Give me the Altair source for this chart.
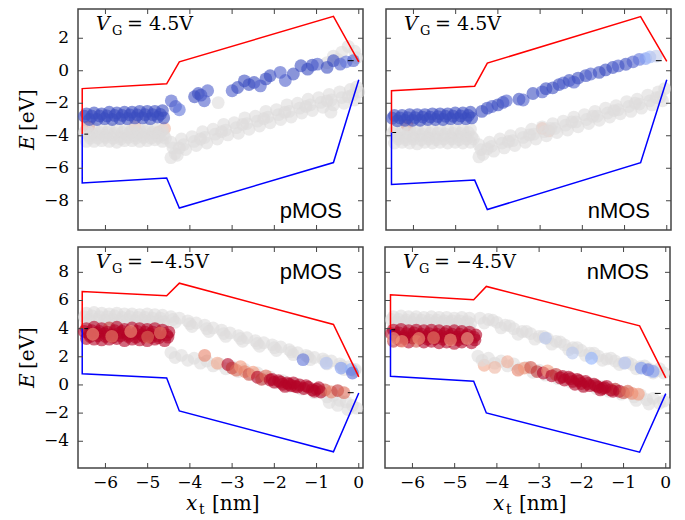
import altair as alt
import pandas as pd

# ---------------- axes ----------------
X_DOMAIN = [-6.65, 0.1]
Y_DOMAIN_TOP = [-9.8, 3.8]
Y_DOMAIN_BOTTOM = [-5.9, 9.8]
X_TICKS = [-6, -5, -4, -3, -2, -1, 0]
Y_TICKS_TOP = [-8, -6, -4, -2, 0, 2]
Y_TICKS_BOTTOM = [-4, -2, 0, 2, 4, 6, 8]

# ---------------- band edges (conduction = red, valence = blue) ----------------
BAND_X_L = [-6.55, -6.55, -4.55, -4.25, -0.6, 0.0]
BAND_X_R = [-6.52, -6.52, -4.55, -4.25, -0.62, 0.0]
tl_cb = [-3.9, -1.1, -0.8, 0.55, 3.35, 0.55]
tl_vb = [-3.9, -6.9, -6.6, -8.45, -5.65, -0.55]
tr_cb = [-3.8, -1.23, -0.95, 0.47, 3.33, 0.57]
tr_vb = [-3.8, -7.0, -6.73, -8.54, -5.66, -0.56]
bl_cb = [4.0, 6.64, 6.33, 7.23, 4.3, 0.57]
bl_vb = [4.0, 0.8, 0.5, -1.85, -4.75, -0.57]
br_cb = [3.92, 6.4, 6.05, 7.0, 4.2, 0.5]
br_vb = [3.92, 0.61, 0.26, -1.99, -4.78, -0.62]
# Fermi level marks (left, right)
tl_ef = [-3.9, 0.62]
tr_ef = [-3.8, 0.62]
bl_ef = [4.0, -0.55]
br_ef = [3.92, -0.6]

# ---------------- defects: top-left (pMOS, VG=4.5V) ----------------
tl_faint = [(-6.4, -3.45, 0.7), (-5.3, -3.4, 0.3), (-4.75, -3.8, 0.35), (-4.6, -3.55, 0.3)]
tl_grey_left = [
    (-6.45, -3.6), (-6.27, -3.55), (-6.09, -3.65), (-5.91, -3.6), (-5.73, -3.55), (-5.55, -3.65),
    (-5.37, -3.6), (-5.19, -3.65), (-5.01, -3.55), (-4.83, -3.6), (-4.65, -3.65),
    (-6.5, -3.8), (-6.32, -3.85), (-6.14, -3.8), (-5.96, -3.8), (-5.78, -3.85), (-5.6, -3.8),
    (-5.42, -3.8), (-5.24, -3.85), (-5.06, -3.75), (-4.88, -3.8), (-4.7, -3.8),
    (-6.38, -4.0), (-6.2, -3.95), (-6.02, -4.0), (-5.84, -3.95), (-5.66, -4.05), (-5.48, -3.95),
    (-5.3, -4.0), (-5.12, -3.95), (-4.94, -3.9), (-4.76, -4.0), (-4.62, -3.95),
    (-6.36, -4.15), (-6.18, -4.15), (-6.0, -4.1), (-5.82, -4.15), (-5.64, -4.2), (-5.46, -4.1),
    (-5.28, -4.15), (-5.1, -4.1), (-4.92, -4.15), (-4.74, -4.1), (-4.58, -4.15),
    (-6.45, -4.35), (-6.27, -4.35), (-6.09, -4.3), (-5.91, -4.35), (-5.73, -4.4), (-5.55, -4.3),
    (-5.37, -4.3), (-5.19, -4.35), (-5.01, -4.3), (-4.83, -4.25), (-4.65, -4.35),
]
tl_grey_rise = [
    (-4.45, -4.4), (-4.2, -4.2), (-3.95, -4.05), (-3.7, -3.75), (-3.45, -3.6), (-3.2, -3.3),
    (-2.95, -3.2), (-2.7, -2.9), (-2.45, -2.8), (-2.2, -2.5), (-1.95, -2.4), (-1.7, -2.1),
    (-1.45, -2.0), (-1.2, -1.75), (-0.95, -1.65), (-0.7, -1.45), (-0.45, -1.3), (-0.2, -1.15),
    (-4.4, -4.75), (-4.15, -4.55), (-3.9, -4.35), (-3.65, -4.1), (-3.4, -3.9), (-3.15, -3.65),
    (-2.9, -3.5), (-2.65, -3.25), (-2.4, -3.1), (-2.15, -2.85), (-1.9, -2.7), (-1.65, -2.5),
    (-1.4, -2.3), (-1.15, -2.1), (-0.9, -1.95), (-0.65, -1.8), (-0.4, -1.65), (-0.15, -1.5),
    (-4.35, -5.1), (-4.1, -4.85), (-3.85, -4.6), (-3.6, -4.45), (-3.35, -4.2), (-3.1, -3.95),
    (-2.85, -3.85), (-2.6, -3.6), (-2.35, -3.4), (-2.1, -3.2), (-1.85, -3.0), (-1.6, -2.85),
    (-1.35, -2.6), (-1.1, -2.45), (-0.85, -2.25), (-0.6, -2.1), (-0.35, -2.0), (-0.1, -1.8),
    (-4.25, -4.75), (-3.75, -4.2), (-3.25, -3.75), (-2.75, -3.3), (-2.25, -2.95), (-1.75, -2.55),
    (-1.25, -2.2), (-0.75, -1.85), (-0.25, -1.6),
    (-4.45, -5.35), (-4.3, -5.2), (-0.66, -2.55), (-0.05, -1.0), (0.0, -1.3),
]
tl_grey_top = [(-0.75, 0.5), (-0.6, 0.9), (-0.4, 1.15), (-0.25, 1.5), (-0.1, 1.2), (-0.05, 0.8),
               (-0.5, 0.7), (-3.33, -1.96)]
tl_blue_left = [
    (-6.45, -2.65, -1), (-6.27, -2.6, -1), (-6.09, -2.65, -1), (-5.91, -2.55, -1), (-5.73, -2.6, -1),
    (-5.55, -2.55, -1), (-5.37, -2.55, -1), (-5.19, -2.5, -1), (-5.01, -2.5, -1), (-4.83, -2.5, -1),
    (-4.65, -2.45, -1),
    (-6.5, -2.8, -1), (-6.32, -2.8, -1), (-6.14, -2.78, -1), (-5.96, -2.78, -1), (-5.78, -2.75, -1),
    (-5.6, -2.75, -1), (-5.42, -2.72, -1), (-5.24, -2.72, -1), (-5.06, -2.7, -1), (-4.88, -2.7, -1),
    (-4.7, -2.68, -1),
    (-6.38, -3.0, -1), (-6.2, -3.0, -1), (-6.02, -2.95, -1), (-5.84, -3.0, -1), (-5.66, -2.95, -1),
    (-5.48, -2.95, -1), (-5.3, -2.9, -1), (-5.12, -2.9, -1), (-4.94, -2.95, -1), (-4.76, -2.85, -1),
    (-4.62, -2.9, -1),
]
tl_blue_rise = [
    (-4.44, -1.85, -0.9), (-4.34, -2.2, -0.9), (-4.25, -2.4, -0.8), (-3.89, -1.6, -1), (-3.8, -1.4, -1),
    (-3.74, -1.5, -1), (-3.66, -1.85, -0.9), (-3.58, -1.23, -0.9), (-3.0, -1.23, -0.9), (-2.87, -1.03, -1),
    (-2.71, -0.62, -1), (-2.6, -0.85, -1), (-2.48, -0.72, -1), (-2.33, -0.93, -0.9), (-2.2, -0.5, -1),
    (-2.1, -0.31, -1), (-1.86, -0.1, -0.9), (-1.74, -0.6, -0.9), (-1.55, -0.2, -1), (-1.37, 0.31, -1),
    (-1.21, 0.1, -1), (-1.1, 0.35, -1), (-0.98, 0.41, -0.9), (-0.75, 0.21, -1), (-0.6, 0.62, -1),
    (-0.44, 0.41, -0.9), (-0.3, 0.55, -0.8), (-0.13, 0.62, -0.9),
]

# ---------------- defects: top-right (nMOS, VG=4.5V) ----------------
tr_faint = [(-6.15, -3.35, 0.8), (-2.95, -3.55, 0.35), (-2.8, -3.7, 0.25)]
tr_grey_left = [
    (-6.45, -3.65), (-6.27, -3.6), (-6.09, -3.65), (-5.91, -3.65), (-5.73, -3.6), (-5.55, -3.65),
    (-5.37, -3.65), (-5.19, -3.6), (-5.01, -3.65), (-4.83, -3.65), (-4.65, -3.6),
    (-6.5, -3.85), (-6.32, -3.9), (-6.14, -3.85), (-5.96, -3.85), (-5.78, -3.9), (-5.6, -3.85),
    (-5.42, -3.85), (-5.24, -3.9), (-5.06, -3.85), (-4.88, -3.85), (-4.7, -3.8),
    (-6.38, -4.05), (-6.2, -4.1), (-6.02, -4.05), (-5.84, -4.0), (-5.66, -4.05), (-5.48, -4.1),
    (-5.3, -4.0), (-5.12, -4.05), (-4.94, -4.05), (-4.76, -4.0), (-4.62, -4.05),
    (-6.36, -4.2), (-6.18, -4.25), (-6.0, -4.2), (-5.82, -4.25), (-5.64, -4.2), (-5.46, -4.25),
    (-5.28, -4.2), (-5.1, -4.2), (-4.92, -4.25), (-4.74, -4.2), (-4.58, -4.2),
    (-6.45, -4.45), (-6.27, -4.4), (-6.09, -4.45), (-5.91, -4.5), (-5.73, -4.4), (-5.55, -4.45),
    (-5.37, -4.4), (-5.19, -4.45), (-5.01, -4.4), (-4.83, -4.45), (-4.65, -4.4),
]
tr_grey_rise = [
    (-4.45, -4.55), (-4.2, -4.4), (-3.95, -4.2), (-3.7, -4.0), (-3.45, -3.85), (-3.2, -3.6),
    (-2.95, -3.45), (-2.7, -3.25), (-2.45, -3.1), (-2.2, -2.85), (-1.95, -2.7), (-1.7, -2.5),
    (-1.45, -2.3), (-1.2, -2.15), (-0.95, -1.9), (-0.7, -1.75), (-0.45, -1.5), (-0.2, -1.3),
    (-4.4, -4.85), (-4.15, -4.65), (-3.9, -4.45), (-3.65, -4.3), (-3.4, -4.1), (-3.15, -3.9),
    (-2.9, -3.75), (-2.65, -3.55), (-2.4, -3.35), (-2.15, -3.15), (-1.9, -3.0), (-1.65, -2.8),
    (-1.4, -2.6), (-1.15, -2.4), (-0.9, -2.2), (-0.65, -2.05), (-0.4, -1.85), (-0.15, -1.6),
    (-4.35, -5.15), (-4.1, -4.95), (-3.85, -4.75), (-3.6, -4.6), (-3.35, -4.4), (-3.1, -4.2),
    (-2.85, -4.0), (-2.6, -3.8), (-2.35, -3.65), (-2.1, -3.45), (-1.85, -3.25), (-1.6, -3.05),
    (-1.35, -2.85), (-1.1, -2.65), (-0.85, -2.5), (-0.6, -2.3), (-0.35, -2.1), (-0.1, -1.85),
    (-4.25, -4.8), (-3.75, -4.35), (-3.25, -3.95), (-2.75, -3.55), (-2.25, -3.15), (-1.75, -2.8),
    (-1.25, -2.45), (-0.75, -2.0), (-0.25, -1.65), (-0.05, -1.1), (-4.45, -5.3),
]
tr_blue_left = [
    (-6.45, -2.75, -1), (-6.27, -2.75, -1), (-6.09, -2.7, -1), (-5.91, -2.7, -1), (-5.73, -2.7, -1),
    (-5.55, -2.65, -1), (-5.37, -2.65, -1), (-5.19, -2.65, -1), (-5.01, -2.6, -1), (-4.83, -2.6, -1),
    (-4.65, -2.55, -1),
    (-6.5, -2.92, -1), (-6.32, -2.9, -1), (-6.14, -2.88, -1), (-5.96, -2.88, -1), (-5.78, -2.85, -1),
    (-5.6, -2.85, -1), (-5.42, -2.82, -1), (-5.24, -2.8, -1), (-5.06, -2.8, -1), (-4.88, -2.78, -1),
    (-4.7, -2.75, -1),
    (-6.38, -3.08, -1), (-6.2, -3.05, -1), (-6.02, -3.05, -1), (-5.84, -3.05, -1), (-5.66, -3.0, -1),
    (-5.48, -3.0, -1), (-5.3, -3.0, -1), (-5.12, -2.95, -1), (-4.94, -2.95, -1), (-4.76, -2.95, -1),
    (-4.62, -2.9, -1),
]
tr_blue_rise = [
    (-4.38, -2.5, -1), (-4.25, -2.3, -1), (-4.14, -2.2, -0.9), (-4.0, -2.1, -1), (-3.88, -1.95, -1),
    (-3.8, -1.85, -0.9), (-3.5, -1.75, -1), (-3.4, -1.8, -0.9), (-3.17, -1.4, -1), (-2.95, -1.3, -0.9),
    (-2.86, -1.1, -1), (-2.7, -1.05, -1), (-2.55, -0.85, -1), (-2.45, -0.75, -0.9), (-2.31, -0.6, -1),
    (-2.2, -0.7, -0.9), (-2.1, -0.45, -1), (-1.92, -0.3, -1), (-1.8, -0.2, -0.9), (-1.6, -0.1, -1),
    (-1.45, 0.05, -1), (-1.28, 0.2, -1), (-1.15, 0.3, -0.9), (-0.97, 0.4, -1), (-0.8, 0.55, -0.9),
    (-0.65, 0.7, -0.8), (-0.5, 0.75, -0.6), (-0.4, 0.85, -0.4), (-0.25, 0.9, -0.2),
]

# ---------------- defects: bottom-left (pMOS, VG=-4.5V) ----------------
bl_faint = []
bl_grey_left = [
    (-6.45, 5.1), (-6.27, 5.15), (-6.09, 5.1), (-5.91, 5.05), (-5.73, 5.1), (-5.55, 5.05),
    (-5.37, 5.05), (-5.19, 5.0), (-5.01, 5.05), (-4.83, 5.0), (-4.65, 4.95),
    (-6.5, 4.85), (-6.32, 4.9), (-6.14, 4.85), (-5.96, 4.85), (-5.78, 4.9), (-5.6, 4.8),
    (-5.42, 4.85), (-5.24, 4.8), (-5.06, 4.8), (-4.88, 4.75), (-4.7, 4.75),
    (-6.38, 4.65), (-6.2, 4.65), (-6.02, 4.6), (-5.84, 4.65), (-5.66, 4.6), (-5.48, 4.65),
    (-5.3, 4.55), (-5.12, 4.6), (-4.94, 4.55), (-4.76, 4.55), (-4.62, 4.5),
    (-6.45, 4.35), (-6.09, 4.3), (-5.73, 4.35), (-5.37, 4.3), (-5.01, 4.3), (-4.65, 4.25),
]
bl_grey_upper = [
    (-4.45, 4.85), (-4.25, 4.75), (-4.05, 4.55), (-3.85, 4.4), (-3.65, 4.25), (-3.45, 4.05),
    (-3.25, 3.9), (-3.05, 3.7), (-2.85, 3.5), (-2.65, 3.35), (-2.45, 3.15), (-2.25, 3.0),
    (-2.05, 2.85), (-1.85, 2.7), (-1.65, 2.5), (-1.45, 2.3), (-1.25, 2.1), (-1.05, 1.95),
    (-0.85, 1.85), (-0.65, 1.7), (-0.45, 1.5), (-0.25, 1.3), (-0.08, 1.1),
    (-4.4, 4.65), (-4.0, 4.35), (-3.6, 4.0), (-3.2, 3.65), (-2.8, 3.3), (-2.4, 2.95),
    (-2.0, 2.65), (-1.6, 2.35), (-1.2, 2.0), (-0.8, 1.7), (-0.4, 1.35), (-0.1, 1.0),
    (-4.35, 4.45), (-3.95, 4.15), (-3.55, 3.8), (-3.15, 3.45), (-2.75, 3.1), (-2.35, 2.75),
    (-1.95, 2.45), (-1.55, 2.15), (-1.15, 1.8), (-0.75, 1.5), (-0.35, 1.1),
]
bl_grey_lower = [
    (-4.45, 2.3), (-4.35, 1.95), (-4.2, 2.1), (-4.05, 1.75), (-3.9, 1.9), (-3.75, 1.55),
    (-3.6, 1.7), (-3.45, 1.35), (-3.3, 1.5), (-3.15, 1.15), (-3.0, 1.3), (-2.85, 0.95),
    (-2.7, 1.1), (-2.55, 0.75), (-2.4, 0.85), (-2.25, 0.45), (-2.1, 0.55), (-1.95, 0.15),
    (-1.8, 0.3), (-1.65, -0.1), (-1.5, 0.05), (-1.35, -0.3), (-1.2, -0.2), (-1.05, -0.55),
    (-0.9, -0.45), (-0.75, -0.85), (-0.6, -0.75), (-0.45, -1.1), (-0.3, -1.2), (-0.15, -1.45),
    (-0.05, -1.65), (-0.5, -1.45), (-0.7, -1.25), (-0.26, -1.75),
]
bl_red_left = [
    (-6.45, 4.0, 1), (-6.27, 4.1, 1), (-6.09, 4.0, 1), (-5.91, 4.05, 0.9), (-5.73, 4.1, 1),
    (-5.55, 3.95, 1), (-5.37, 4.05, 1), (-5.19, 4.0, 1), (-5.01, 3.95, 1), (-4.83, 4.0, 1), (-4.65, 3.9, 1),
    (-6.5, 3.8, 1), (-6.32, 3.85, 1), (-6.14, 3.8, 1), (-5.96, 3.75, 1), (-5.78, 3.85, 1), (-5.6, 3.8, 1),
    (-5.42, 3.75, 1), (-5.24, 3.8, 1), (-5.06, 3.75, 1), (-4.88, 3.75, 1), (-4.7, 3.7, 1), (-4.5, 3.75, 1),
    (-6.38, 3.6, 1), (-6.2, 3.7, 1), (-6.02, 3.65, 1), (-5.84, 3.55, 1), (-5.66, 3.7, 1),
    (-5.48, 3.6, 1), (-5.3, 3.65, 1), (-5.12, 3.55, 1), (-4.94, 3.6, 1), (-4.76, 3.5, 1), (-4.55, 3.55, 1),
    (-6.36, 3.45, 1), (-6.18, 3.5, 1), (-6.0, 3.45, 1), (-5.82, 3.4, 1), (-5.64, 3.5, 1), (-5.46, 3.45, 1),
    (-5.28, 3.4, 1), (-5.1, 3.45, 1), (-4.92, 3.4, 1), (-4.74, 3.35, 1), (-4.52, 3.4, 1),
    (-6.45, 3.3, 1), (-6.27, 3.25, 1), (-6.09, 3.2, 1), (-5.91, 3.25, 1), (-5.73, 3.3, 1),
    (-5.55, 3.15, 1), (-5.37, 3.25, 1), (-5.19, 3.2, 1), (-5.01, 3.15, 1), (-4.83, 3.25, 1), (-4.6, 3.15, 1),
]
bl_red_light = [(-6.3, 3.6, 0.5), (-5.85, 3.45, 0.6), (-5.4, 3.8, 0.5), (-5.0, 3.4, 0.7), (-4.7, 3.7, 0.6)]
bl_red_lower = [
    (-3.65, 2.1, 0.6), (-3.35, 1.55, 0.4), (-3.1, 1.45, 1), (-3.0, 1.2, 0.9), (-2.9, 1.05, 0.7),
    (-2.8, 1.3, 0.5), (-2.7, 0.95, 0.6), (-2.6, 0.75, 0.8), (-2.5, 0.9, 0.5), (-2.4, 0.55, 1),
    (-2.3, 0.4, 0.9), (-2.2, 0.65, 0.7), (-2.1, 0.35, 1), (-2.0, 0.2, 1), (-1.9, 0.3, 1),
    (-1.8, 0.05, 1), (-1.7, 0.15, 1), (-1.6, -0.05, 1), (-1.5, -0.1, 1), (-1.4, 0.0, 1),
    (-1.3, -0.25, 1), (-1.2, -0.15, 1), (-1.1, -0.35, 1), (-1.0, -0.3, 1), (-0.9, -0.5, 1),
    (-0.8, -0.35, 0.8), (-0.65, -0.5, 0.6), (-0.5, -0.4, 0.9), (-0.35, -0.55, 0.7),
    (-2.05, 0.4, 1), (-1.85, 0.2, 1), (-1.65, 0.05, 1), (-1.45, -0.15, 1), (-1.25, -0.05, 1),
    (-1.05, -0.45, 1), (-0.95, -0.2, 1), (-1.55, 0.15, 1), (-1.75, -0.1, 1),
]
bl_blue = [(-1.32, 1.8, -0.8), (-0.77, 1.55, -0.3), (-0.42, 1.2, -0.6), (-0.18, 1.1, -0.5),
           (-0.15, 0.85, -0.85)]

# ---------------- defects: bottom-right (nMOS, VG=-4.5V) ----------------
br_faint = [(-4.3, 1.4, 0.4)]
br_grey_left = [
    (-6.45, 4.85), (-6.27, 4.9), (-6.09, 4.85), (-5.91, 4.85), (-5.73, 4.8), (-5.55, 4.85),
    (-5.37, 4.8), (-5.19, 4.8), (-5.01, 4.75), (-4.83, 4.8), (-4.65, 4.75),
    (-6.5, 4.65), (-6.32, 4.65), (-6.14, 4.6), (-5.96, 4.65), (-5.78, 4.6), (-5.6, 4.6),
    (-5.42, 4.6), (-5.24, 4.55), (-5.06, 4.55), (-4.88, 4.55), (-4.7, 4.5),
    (-6.38, 4.45), (-6.2, 4.5), (-6.02, 4.45), (-5.84, 4.4), (-5.66, 4.45), (-5.48, 4.4),
    (-5.3, 4.45), (-5.12, 4.4), (-4.94, 4.35), (-4.76, 4.4), (-4.62, 4.35),
    (-6.45, 4.1), (-6.09, 4.1), (-5.73, 4.05), (-5.37, 4.1), (-5.01, 4.05), (-4.65, 4.0),
]
br_grey_upper = [
    (-4.4, 4.75), (-4.2, 4.65), (-4.0, 4.45), (-3.8, 4.25), (-3.6, 4.0), (-3.4, 3.8),
    (-3.2, 3.65), (-3.0, 3.45), (-2.8, 3.3), (-2.6, 3.1), (-2.4, 2.85), (-2.2, 2.65),
    (-2.0, 2.45), (-1.8, 2.25), (-1.6, 2.05), (-1.4, 1.85), (-1.2, 1.7), (-1.0, 1.55),
    (-0.8, 1.45), (-0.6, 1.3), (-0.4, 1.15), (-0.2, 1.0), (-0.05, 0.85),
    (-4.1, 4.6), (-3.7, 4.2), (-3.3, 3.8), (-2.9, 3.45), (-2.5, 3.05), (-2.1, 2.65),
    (-1.7, 2.25), (-1.3, 1.9), (-0.9, 1.6), (-0.5, 1.35), (-0.15, 1.15),
    (-4.3, 4.4), (-3.9, 4.05), (-3.5, 3.6), (-3.1, 3.25), (-2.7, 2.9), (-2.3, 2.5),
    (-1.9, 2.1), (-1.5, 1.75), (-1.1, 1.45), (-0.7, 1.15), (-0.3, 0.85),
]
br_grey_lower = [
    (-4.45, 2.05), (-4.35, 1.75), (-4.2, 1.9), (-4.05, 1.55), (-3.9, 1.7), (-3.75, 1.35),
    (-3.6, 1.5), (-3.45, 1.15), (-3.3, 1.25), (-3.15, 0.9), (-3.0, 1.05), (-2.85, 0.7),
    (-2.7, 0.8), (-2.55, 0.45), (-2.4, 0.6), (-2.25, 0.2), (-2.1, 0.35), (-1.95, -0.05),
    (-1.8, 0.1), (-1.65, -0.25), (-1.5, -0.1), (-1.35, -0.45), (-1.2, -0.3), (-1.05, -0.65),
    (-0.9, -0.5), (-0.75, -0.85), (-0.6, -0.7), (-0.45, -1.05), (-0.3, -0.95), (-0.15, -1.3),
    (-0.05, -1.15), (-0.4, -1.35), (-0.7, -1.1),
]
br_red_left = [
    (-6.45, 3.9, 1), (-6.27, 3.95, 1), (-6.09, 3.85, 1), (-5.91, 3.9, 1), (-5.73, 3.85, 1),
    (-5.55, 3.9, 1), (-5.37, 3.85, 1), (-5.19, 3.8, 1), (-5.01, 3.85, 1), (-4.83, 3.8, 1), (-4.65, 3.75, 1),
    (-6.5, 3.65, 1), (-6.32, 3.7, 1), (-6.14, 3.65, 1), (-5.96, 3.7, 1), (-5.78, 3.6, 1), (-5.6, 3.65, 1),
    (-5.42, 3.6, 1), (-5.24, 3.65, 1), (-5.06, 3.6, 1), (-4.88, 3.6, 1), (-4.7, 3.55, 1), (-4.5, 3.55, 1),
    (-6.38, 3.5, 1), (-6.2, 3.45, 1), (-6.02, 3.55, 1), (-5.84, 3.5, 1), (-5.66, 3.45, 1),
    (-5.48, 3.5, 1), (-5.3, 3.45, 1), (-5.12, 3.5, 1), (-4.94, 3.4, 1), (-4.76, 3.45, 1), (-4.55, 3.4, 1),
    (-6.36, 3.3, 1), (-6.18, 3.3, 1), (-6.0, 3.35, 1), (-5.82, 3.3, 1), (-5.64, 3.25, 1), (-5.46, 3.3, 1),
    (-5.28, 3.25, 1), (-5.1, 3.3, 1), (-4.92, 3.2, 1), (-4.74, 3.25, 1), (-4.52, 3.2, 1),
    (-6.45, 3.1, 0.9), (-6.27, 3.15, 1), (-6.09, 3.05, 1), (-5.91, 3.1, 0.8), (-5.73, 3.05, 1),
    (-5.55, 3.1, 1), (-5.37, 3.0, 1), (-5.19, 3.05, 1), (-5.01, 2.95, 1), (-4.83, 3.05, 1), (-4.6, 3.0, 1),
]
br_red_light = [(-6.45, 3.3, 0.4), (-6.25, 3.1, 0.5), (-5.85, 3.3, 0.5), (-5.5, 3.35, 0.6),
                (-5.1, 3.2, 0.5), (-4.7, 3.3, 0.4)]
br_red_lower = [
    (-3.75, 1.65, 0.35), (-4.05, 1.25, 0.3), (-3.5, 1.05, 0.6), (-3.35, 1.2, 0.5), (-3.2, 1.25, 0.8),
    (-3.05, 0.95, 0.9), (-2.9, 0.85, 1), (-2.8, 1.0, 0.5), (-2.7, 0.65, 1), (-2.6, 0.75, 0.9),
    (-2.5, 0.5, 1), (-2.4, 0.35, 1), (-2.3, 0.55, 1), (-2.2, 0.25, 1), (-2.1, 0.4, 1),
    (-2.0, 0.1, 1), (-1.9, 0.25, 1), (-1.8, -0.05, 1), (-1.7, 0.05, 1), (-1.6, -0.15, 1),
    (-1.5, -0.25, 1), (-1.4, -0.1, 1), (-1.3, -0.35, 1), (-1.2, -0.3, 0.9), (-1.1, -0.45, 1),
    (-1.0, -0.55, 0.8), (-0.9, -0.45, 0.7), (-0.8, -0.6, 0.6), (-0.65, -0.65, 0.5),
    (-2.45, 0.6, 1), (-2.25, 0.45, 1), (-2.05, 0.3, 1), (-1.85, 0.1, 1), (-1.65, -0.05, 1),
    (-1.45, -0.2, 1), (-1.25, -0.45, 1), (-2.15, 0.05, 1), (-1.95, -0.1, 1), (-1.55, -0.35, 1),
]
br_blue = [(-2.85, 3.33, -0.25), (-2.21, 2.27, -0.25), (-1.76, 1.9, -0.5), (-0.97, 1.56, -0.3),
           (-0.58, 1.2, -0.6), (-0.42, 1.08, -0.8), (-0.3, 0.96, -0.6)]

# ---------------- styling ----------------
W, H = 285, 221
SERIF = "DejaVu Serif"
SANS = "Liberation Sans"
FRAME = "#444444"
CSCALE = alt.Scale(domain=[-1, -0.5, 0, 0.5, 1],
                   range=["#3b4cc0", "#8db0fe", "#dddcdc", "#f49a7b", "#b40426"],
                   interpolate="lab")
ONE = alt.Data(values=[{}])


def lab(v):
    return str(v).replace("-", "\u2212")


def txt(s, x, y, size, font=SERIF, style="normal", align="left", angle=0):
    return alt.Chart(ONE).mark_text(
        text=s, font=font, fontSize=size, fontStyle=style, align=align,
        baseline="alphabetic", angle=angle, color="black"
    ).encode(x=alt.value(x), y=alt.value(y))


def panel(faint, greys, colored, band_x, cb, vb, ef, ydom, yticks,
          show_x, show_y, vg_value, device, device_top):
    rows = list(faint)
    for g in greys:
        rows += [(x, y, 0.0) for (x, y) in g]
    for grp in colored:
        rows += list(grp)
    df = pd.DataFrame(rows, columns=["x", "y", "c"])

    xs = alt.Scale(domain=X_DOMAIN, nice=False, zero=False)
    ys = alt.Scale(domain=ydom, nice=False, zero=False)

    pts = alt.Chart(df).mark_circle(size=165, opacity=0.6).encode(
        x=alt.X("x:Q", scale=xs, axis=None),
        y=alt.Y("y:Q", scale=ys, axis=None),
        color=alt.Color("c:Q", scale=CSCALE, legend=None),
    )

    def band(yv, col):
        d = pd.DataFrame({"x": band_x, "y": yv, "i": list(range(len(yv)))})
        return alt.Chart(d).mark_line(color=col, strokeWidth=1.5).encode(
            x=alt.X("x:Q", scale=xs, axis=None), y=alt.Y("y:Q", scale=ys, axis=None),
            order="i:Q")

    fermi_df = pd.DataFrame({"x": [-6.5, -0.26], "x2": [-6.41, -0.12], "y": ef})
    fermi = alt.Chart(fermi_df).mark_rule(color="black", strokeWidth=1).encode(
        x=alt.X("x:Q", scale=xs, axis=None), x2="x2:Q", y=alt.Y("y:Q", scale=ys, axis=None))

    ydf = pd.DataFrame({"v": yticks, "lab": [lab(v) for v in yticks]})
    xdf = pd.DataFrame({"v": X_TICKS, "lab": [lab(v) for v in X_TICKS]})
    tick_style = dict(color=FRAME, strokeWidth=1)
    ticks = [
        alt.Chart(ydf).mark_rule(**tick_style).encode(
            y=alt.Y("v:Q", scale=ys, axis=None), x=alt.value(0), x2=alt.value(5)),
        alt.Chart(ydf).mark_rule(**tick_style).encode(
            y=alt.Y("v:Q", scale=ys, axis=None), x=alt.value(W - 5), x2=alt.value(W)),
        alt.Chart(xdf).mark_rule(**tick_style).encode(
            x=alt.X("v:Q", scale=xs, axis=None), y=alt.value(H - 5), y2=alt.value(H)),
        alt.Chart(xdf).mark_rule(**tick_style).encode(
            x=alt.X("v:Q", scale=xs, axis=None), y=alt.value(0), y2=alt.value(5)),
    ]
    if show_y:
        ticks.append(alt.Chart(ydf).mark_text(
            font=SERIF, fontSize=17, align="right", baseline="middle", color="black").encode(
            y=alt.Y("v:Q", scale=ys, axis=None), x=alt.value(-9), text="lab:N"))
    if show_x:
        ticks.append(alt.Chart(xdf).mark_text(
            font=SERIF, fontSize=17, align="center", baseline="alphabetic", color="black").encode(
            x=alt.X("v:Q", scale=xs, axis=None), y=alt.value(H + 20), text="lab:N"))

    texts = [
        txt("V", 18, 21, 19, style="italic"),
        txt("G", 34, 25.5, 13),
        txt("=", 49, 21, 19),
        txt(vg_value, 71, 21, 19),
        txt(device, W - 21, 32 if device_top else H - 12, 22, font=SANS, align="right"),
    ]
    if show_y:
        texts += [
            txt("E", -44, 141, 20, style="italic", angle=270),
            txt("[eV]", -44, 122, 20, angle=270),
        ]
    if show_x:
        texts += [
            txt("x", 108, H + 42, 20, style="italic"),
            txt("t", 121, H + 46, 14),
            txt("[nm]", 134, H + 42, 20),
        ]

    return alt.layer(pts, band(cb, "#ff0000"), band(vb, "#0000ff"), fermi, *ticks, *texts).properties(
        width=W, height=H)


tl = panel(tl_faint, [tl_grey_left, tl_grey_rise, tl_grey_top], [tl_blue_left, tl_blue_rise],
           BAND_X_L, tl_cb, tl_vb, tl_ef, Y_DOMAIN_TOP, Y_TICKS_TOP, False, True, "4.5V", "pMOS", False)
tr = panel(tr_faint, [tr_grey_left, tr_grey_rise], [tr_blue_left, tr_blue_rise],
           BAND_X_R, tr_cb, tr_vb, tr_ef, Y_DOMAIN_TOP, Y_TICKS_TOP, False, False, "4.5V", "nMOS", False)
bl = panel(bl_faint, [bl_grey_left, bl_grey_upper, bl_grey_lower],
           [bl_red_left, bl_red_light, bl_red_lower, bl_blue],
           BAND_X_L, bl_cb, bl_vb, bl_ef, Y_DOMAIN_BOTTOM, Y_TICKS_BOTTOM, True, True, "\u22124.5V", "pMOS", True)
br = panel(br_faint, [br_grey_left, br_grey_upper, br_grey_lower],
           [br_red_left, br_red_light, br_red_lower, br_blue],
           BAND_X_R, br_cb, br_vb, br_ef, Y_DOMAIN_BOTTOM, Y_TICKS_BOTTOM, True, False, "\u22124.5V", "nMOS", True)

chart = alt.vconcat(
    alt.hconcat(tl, tr, spacing=18),
    alt.hconcat(bl, br, spacing=18),
    spacing=13,
).properties(
    padding={"left": 17, "top": 7, "right": 5, "bottom": 10},
    background="white",
).configure_view(stroke=FRAME, strokeWidth=1.5)

chart.save("out.html", embed_options={"renderer": "svg", "actions": False})
